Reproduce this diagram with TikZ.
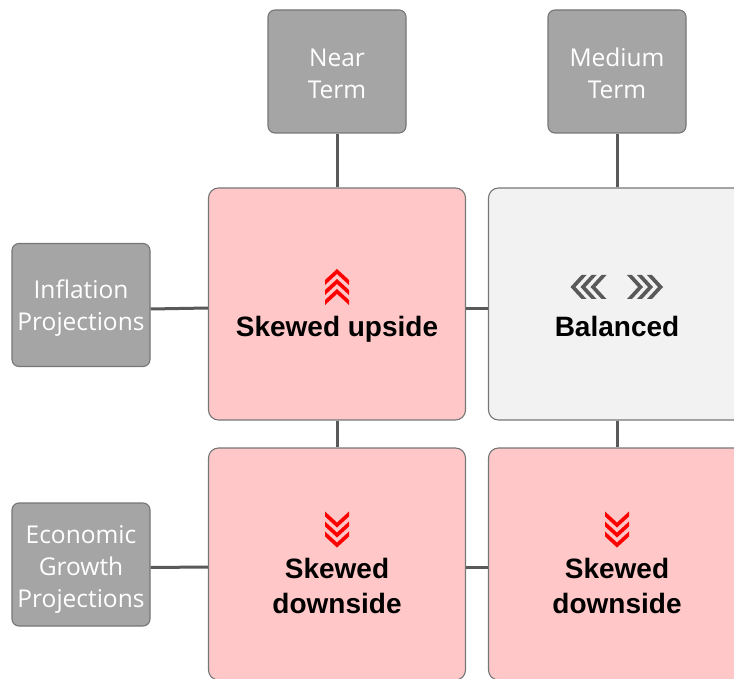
\documentclass[tikz,border=0pt]{standalone}
\usepackage{fontspec}
\setmainfont{Liberation Sans}
\newfontfamily\labelfont{Open Sans}
\usetikzlibrary{positioning}
\definecolor{frame}{HTML}{767676}
\definecolor{axis}{HTML}{595959}
\definecolor{tile}{HTML}{A5A5A5}
\definecolor{skew}{HTML}{FFC7C7}
\definecolor{even}{HTML}{F2F2F2}
\tikzset{
  header/.style={draw=frame,fill=tile,line width=1.1pt,rounded corners=7pt,minimum width=138pt,minimum height=123pt},
  headtext/.style={text=white,align=center,font=\labelfont\fontsize{24.5}{32}\selectfont},
  cell/.style={draw=frame,line width=1.1pt,rounded corners=10pt,minimum width=257pt,minimum height=232pt},
  verdict/.style={align=center,font=\bfseries\fontsize{28}{35}\selectfont},
  link/.style={draw=axis,line width=3pt},
  chevrons/.pic={
    \foreach \k in {0,1,2}
      \path[pic actions] (0,-18+10*\k) -- (12,-7+10*\k) -- (12,-2+10*\k) -- (0,-13+10*\k) -- (-12,-2+10*\k) -- (-12,-7+10*\k) -- cycle;
  }
}

\begin{document}
\begin{tikzpicture}[x=1pt,y=-1pt]
\clip (0,0) rectangle (734,679);
% column and row headers
\node[header] (near) at (337,71.5) {};
\node[headtext] (neartext) at ([yshift=-2pt]near.center) {Near\\Term};
\node[header] (medium) at (617,71.5) {};
\node[headtext] (mediumtext) at ([yshift=-2pt]medium.center) {Medium\\Term};
\node[header] (infl) at (81,305) {};
\node[headtext] (infltext) at ([yshift=-3pt]infl.center) {Inflation\\Projections};
\node[header] (econ) at (81,564.5) {};
\node[headtext] (econtext) at ([yshift=-5pt]econ.center) {Economic\\Growth\\Projections};
% assessment cells
\node[cell,fill=skew] (ul) at (337,304) {};
\node[cell,fill=even] (ur) at (617,304) {};
\node[cell,fill=skew] (ll) at (337,564) {};
\node[cell,fill=skew] (lr) at (617,564) {};
% connectors
\draw[link] (near) -- (ul);
\draw[link] (medium) -- (ur);
\draw[link] (ul) -- (ll);
\draw[link] (ur) -- (lr);
\draw[link] ([yshift=-4pt]infl.east) -- ([yshift=-4pt]ul.west);
\draw[link] ([yshift=-4pt]ul.east) -- ([yshift=-4pt]ur.west);
\draw[link] ([yshift=-3pt]econ.east) -- ([yshift=-3pt]ll.west);
\draw[link] ([yshift=-3pt]ll.east) -- ([yshift=-3pt]lr.west);
% verdicts
\pic[fill=red] at ([yshift=17pt]ul.center) {chevrons};
\node[verdict] (ultext) at ([yshift=-25pt]ul.center) {Skewed upside};
\pic[fill=axis,rotate=90] at ([xshift=-28.5pt,yshift=17pt]ur.center) {chevrons};
\pic[fill=axis,rotate=-90] at ([xshift=28pt,yshift=17pt]ur.center) {chevrons};
\node[verdict] (urtext) at ([yshift=-22pt]ur.center) {Balanced};
\pic[fill=red,rotate=180] at ([yshift=34.5pt]ll.center) {chevrons};
\node[verdict] (lltext) at ([yshift=-22pt]ll.center) {Skewed\\downside};
\pic[fill=red,rotate=180] at ([yshift=34.5pt]lr.center) {chevrons};
\node[verdict] (lrtext) at ([yshift=-22pt]lr.center) {Skewed\\downside};
\end{tikzpicture}
\end{document}
